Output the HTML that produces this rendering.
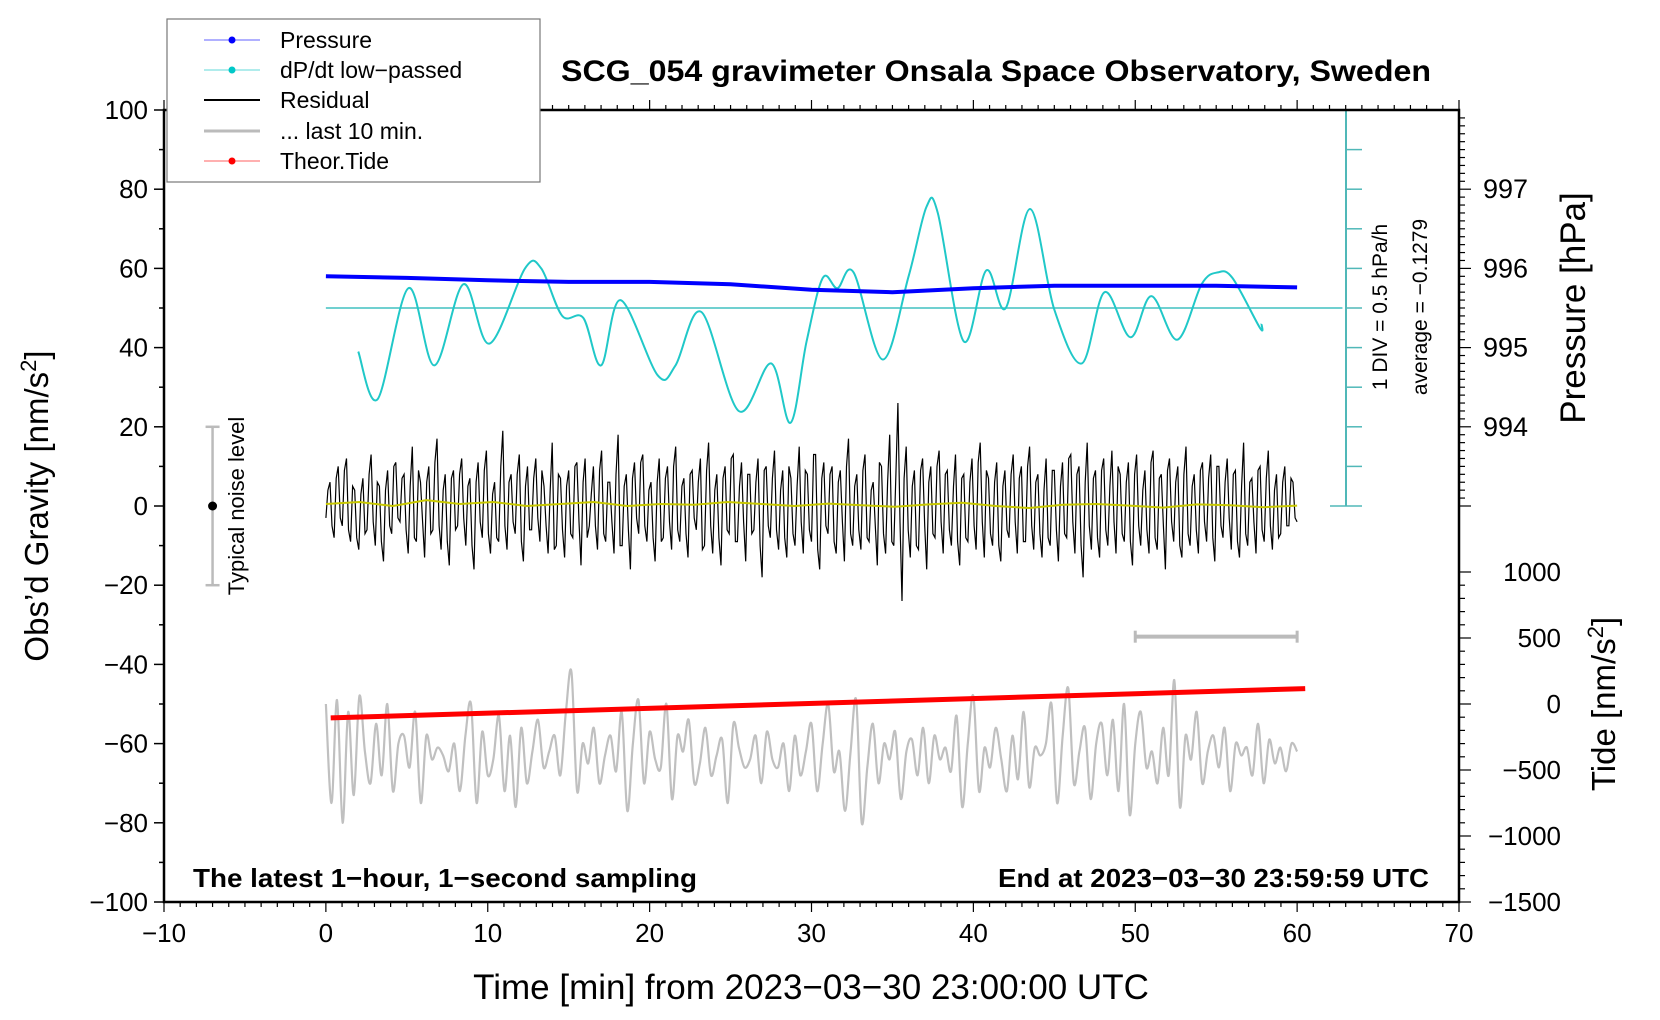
<!DOCTYPE html>
<html><head><meta charset="utf-8"><title>SCG_054 gravimeter</title>
<style>
html,body{margin:0;padding:0;background:#fff;}
svg{display:block;font-family:"Liberation Sans",Arial,sans-serif;}
</style></head>
<body>
<svg id="chart" width="1660" height="1020" viewBox="0 0 1660 1020" xmlns="http://www.w3.org/2000/svg">
<rect width="1660" height="1020" fill="#fff"/>
<g id="marks"></g>
<g id="axes"></g>
<text x="561" y="81" font-size="30" font-weight="bold" textLength="870" lengthAdjust="spacingAndGlyphs">SCG_054 gravimeter Onsala Space Observatory, Sweden</text>
<text transform="translate(48,506) rotate(-90)" font-size="33" text-anchor="middle">Obs’d Gravity [nm/s<tspan dy="-12" font-size="22">2</tspan><tspan dy="12">]</tspan></text>
<text transform="translate(1585,308) rotate(-90)" font-size="35" text-anchor="middle">Pressure [hPa]</text>
<text transform="translate(1615,704) rotate(-90)" font-size="33" text-anchor="middle">Tide [nm/s<tspan dy="-12" font-size="22">2</tspan><tspan dy="12">]</tspan></text>
<text x="811" y="999" font-size="35" text-anchor="middle">Time [min] from 2023−03−30 23:00:00 UTC</text>
<text transform="translate(1387,307) rotate(-90)" font-size="21" text-anchor="middle">1 DIV = 0.5 hPa/h</text>
<text transform="translate(1427,307) rotate(-90)" font-size="21" text-anchor="middle">average = −0.1279</text>
<text transform="translate(244,506) rotate(-90)" font-size="22" text-anchor="middle">Typical noise level</text>
<text x="193" y="887" font-size="26" font-weight="bold" textLength="504" lengthAdjust="spacingAndGlyphs">The latest 1−hour, 1−second sampling</text>
<text x="998" y="887" font-size="26" font-weight="bold" textLength="431" lengthAdjust="spacingAndGlyphs">End at 2023−03−30 23:59:59 UTC</text>
<g>
<rect x="167" y="19" width="373" height="163" fill="#fff" stroke="#777" stroke-width="1.2"/>
<line x1="204" y1="40" x2="260" y2="40" stroke="#6060ff" stroke-width="1"/><circle cx="232" cy="40" r="3.5" fill="#0000ff"/>
<text x="280" y="48" font-size="23">Pressure</text>
<line x1="204" y1="70" x2="260" y2="70" stroke="#60d8d8" stroke-width="1"/><circle cx="232" cy="70" r="3.5" fill="#00c8c8"/>
<text x="280" y="78" font-size="23">dP/dt low−passed</text>
<line x1="204" y1="100" x2="260" y2="100" stroke="#000" stroke-width="2"/>
<text x="280" y="108" font-size="23">Residual</text>
<line x1="204" y1="131" x2="260" y2="131" stroke="#bbb" stroke-width="3"/>
<text x="280" y="139" font-size="23">... last 10 min.</text>
<line x1="204" y1="161" x2="260" y2="161" stroke="#ff6060" stroke-width="1"/><circle cx="232" cy="161" r="3.5" fill="#ff0000"/>
<text x="280" y="169" font-size="23">Theor.Tide</text>
</g>
</svg>
<script>
const pressureTimes=[0,5,10,15,20,25,30,35,40,45,50,55,60];
const pressureHPa=[995.90,995.88,995.85,995.83,995.83,995.80,995.73,995.70,995.75,995.78,995.78,995.78,995.76];
const dpdtTimes=[2,3.2,5.1,6.7,8.5,10.1,12.3,13.3,14.6,15.9,17,18.2,20.5,21.6,23.2,25.5,27.5,28.7,29.7,30.7,31.6,32.6,34.4,36,37.1,37.8,39.4,40.8,42,43.5,45,46.7,48.1,49.7,51,52.6,54.1,55.1,56,57.7,57.8];
const dpdtValues=[39,27,55,35.5,56,41,60,60,48,47.5,35.5,52,33,35.5,49,24,36,21,41.6,57.6,55,59,37,58,75.5,74,41.6,59.5,50,75,49.6,36,54,42.6,53,42,56,59,57.6,45,46];
const residualA=[-3,6,-8,10,-5,12,-9,4,-11,7,-6,13,-10,5,-14,9,-7,11,-4,8,-12,15,-9,6,-13,10,-6,17,-11,8,-15,9,-5,12,-10,7,-16,11,-8,14,-12,6,-9,19,-11,8,-7,13,-14,10,-6,12,-9,5,-12,16,-10,7,-13,9,-8,11,-15,12,-5,10,-11,14,-9,6,-12,18,-10,8,-16,11,-7,13,-9,6,-14,12,-8,10,-11,15,-9,7,-13,9,-6,12,-10,16,-12,8,-15,10,-7,13,-9,11,-14,8,-6,12,-18,10,-8,14,-11,9,-13,7,-10,15,-12,8,-9,13,-16,11,-7,10,-12,9,-14,17,-10,8,-11,13,-9,6,-15,10,-12,18,-10,26,-24,15,-13,9,-11,12,-16,10,-8,14,-12,9,-10,13,-15,8,-9,12,-11,16,-13,7,-10,11,-14,9,-8,13,-12,10,-9,15,-11,8,-13,12,-10,9,-14,11,-8,13,-12,10,-18,16,-11,9,-13,12,-10,14,-12,8,-9,11,-15,13,-10,9,-12,14,-11,8,-16,12,-9,10,-13,15,-10,8,-12,11,-9,13,-14,10,-8,12,-11,9,-13,16,-10,7,-12,10,-9,14,-11,8,-7,10,-5,6,-4];
const residualB=[4,-5,7,-3,9,-6,5,-8,3,-7,8,-4,6,-9,4,-5,10,-3,7,-6,5,-8,9,-4,6,-7,11,-5,4,-9,7,-6,8,-3,5,-10,6,-4,9,-7,3,-8,10,-5,6,-4,8,-9,5,-6,7,-3,9,-5,4,-11,8,-6,5,-7,10,-4,6,-8,3,-5,9,-7,6,-4,8,-10,5,-6,7,-3,11,-5,4,-8,6,-9,7,-4,10,-6,5,-7,8,-3,6,-11,9,-5,4,-8,7,-6,12,-9,5,-4,8,-7,6,-10,9,-5,7,-6,4,-8,10,-7,5,-4,9,-6,13,-11,7,-5,8,-9,6,-4,10,-7,5,-6,9,-8,4,-5,11,-7,6,-9,8,-4,7,-6,5,-10,9,-5,6,-7,10,-4,8,-6,5,-9,7,-8,6,-5,11,-4,9,-7,6,-10,5,-6,8,-4,7,-9,10,-5,6,-7,4,-8,9,-6,5,-7,12,-4,8,-10,6,-5,7,-8,9,-6,5,-4,10,-7,6,-9,8,-5,4,-6,11,-8,7,-5,9,-4,6,-10,8,-7,5,-6,9,-4,7,-8,10,-5,6,-3,8,-9,5,-7,6,-4,9,-6,7,-5,4,-8,6,-5,7,-3];
const residual=[];
for(let i=0;i<residualA.length;i++){residual.push(residualA[i]);if(i<residualB.length)residual.push(residualB[i]);}
const smoothed=[0.5,1,0,1.5,0.5,1,0,0.5,1,0,0.5,0.3,1,0.5,0,0.6,0.2,-0.2,0.4,0.8,0,-0.5,0.3,0.5,0.1,-0.4,0.4,0.2,-0.3,0.1];
const last10=[-50,-75,-49,-80,-52,-73,-48,-62,-70,-55,-68,-50,-72,-60,-58,-66,-52,-75,-58,-64,-61,-63,-67,-60,-72,-58,-50,-75,-57,-68,-64,-53,-72,-58,-76,-56,-70,-62,-54,-66,-62,-58,-68,-52,-42,-72,-60,-65,-56,-70,-63,-58,-67,-52,-77,-60,-49,-70,-57,-64,-66,-50,-74,-58,-62,-54,-70,-65,-56,-68,-63,-59,-75,-55,-61,-66,-64,-58,-70,-57,-64,-66,-60,-72,-58,-68,-62,-55,-72,-60,-50,-67,-62,-77,-62,-49,-80,-66,-55,-70,-60,-64,-57,-74,-62,-59,-68,-56,-70,-58,-64,-61,-67,-53,-76,-60,-48,-72,-61,-66,-56,-64,-72,-58,-69,-52,-71,-61,-63,-60,-50,-75,-58,-46,-70,-62,-56,-74,-60,-55,-68,-54,-72,-50,-78,-60,-52,-66,-62,-70,-56,-68,-44,-76,-58,-64,-52,-70,-62,-58,-66,-56,-72,-60,-63,-61,-68,-55,-70,-59,-65,-61,-67,-60,-62];
const tideTimes=[0.3,60.5];
const tideValues=[-105,117];
const leftTicks=[-100,-80,-60,-40,-20,0,20,40,60,80,100];
const xTicks=[-10,0,10,20,30,40,50,60,70];
const pressureTicks=[994,995,996,997];
const tideTicks=[-1500,-1000,-500,0,500,1000];

const NS="http://www.w3.org/2000/svg";
const X0=164,X1=1459,Y0=110,Y1=902;
function xs(t){return X0+(t+10)/80*(X1-X0);}
function ys(g){return Y0+(100-g)/200*(Y1-Y0);}
function yp(p){return ys((p-993)*20);}
function yt(v){return ys(-50+v/30);}
const marks=document.getElementById('marks'),axes=document.getElementById('axes');
function mk(tag,attrs,parent){const e=document.createElementNS(NS,tag);for(const k in attrs)e.setAttribute(k,attrs[k]);(parent||marks).appendChild(e);return e;}
function poly(pts){return pts.map((p,i)=>(i?'L':'M')+p[0].toFixed(1)+','+p[1].toFixed(1)).join('');}
function smooth(pts){let d='M'+pts[0][0]+','+pts[0][1];for(let i=0;i<pts.length-1;i++){const p0=pts[i-1]||pts[i],p1=pts[i],p2=pts[i+1],p3=pts[i+2]||p2;d+=' C'+(p1[0]+(p2[0]-p0[0])/6).toFixed(1)+','+(p1[1]+(p2[1]-p0[1])/6).toFixed(1)+' '+(p2[0]-(p3[0]-p1[0])/6).toFixed(1)+','+(p2[1]-(p3[1]-p1[1])/6).toFixed(1)+' '+p2[0].toFixed(1)+','+p2[1].toFixed(1);}return d;}

let e;
e=mk('line',{x1:xs(0),y1:ys(50),x2:xs(62.8),y2:ys(50),stroke:'#40c0c0','stroke-width':1.5});


e=mk('line',{x1:1346,y1:ys(100),x2:1346,y2:ys(0),stroke:'#50b8b8','stroke-width':2});


for(let g=0;g<=100;g+=10){const w=(g===0||g===100)?16:0;mk('line',{x1:1346-w,y1:ys(g),x2:1362,y2:ys(g),stroke:'#50b8b8','stroke-width':1.5});}

const rPts=residual.map((v,i)=>[xs(i*60/(residual.length-1)),ys(v)]);
e=mk('path',{d:poly(rPts),fill:'none',stroke:'#000','stroke-width':1.2});


const sPts=smoothed.map((v,i)=>[xs(i*60/(smoothed.length-1)),ys(v)]);
e=mk('path',{d:poly(sPts),fill:'none',stroke:'#c8c800','stroke-width':2});



const gPts=last10.map((v,i)=>[xs(i*60/(last10.length-1)),ys(v)]);
e=mk('path',{d:smooth(gPts),fill:'none',stroke:'#c0c0c0','stroke-width':2.2});



const tPts=tideTimes.map((t,i)=>[xs(t),yt(tideValues[i])]);
e=mk('path',{d:poly(tPts),fill:'none',stroke:'#ff0000','stroke-width':5});



const dPts=dpdtTimes.map((t,i)=>[xs(t),ys(dpdtValues[i])]);
e=mk('path',{d:smooth(dPts),fill:'none',stroke:'#20c8c8','stroke-width':2});



const pPts=pressureTimes.map((t,i)=>[xs(t),yp(pressureHPa[i])]);
e=mk('path',{d:poly(pPts),fill:'none',stroke:'#0000ff','stroke-width':4});



e=mk('g',{stroke:'#bbb','stroke-width':2.5});


mk('line',{x1:xs(-7),y1:ys(20),x2:xs(-7),y2:ys(-20)},e);
mk('line',{x1:xs(-7)-7,y1:ys(20),x2:xs(-7)+7,y2:ys(20)},e);
mk('line',{x1:xs(-7)-7,y1:ys(-20),x2:xs(-7)+7,y2:ys(-20)},e);
mk('circle',{cx:xs(-7),cy:ys(0),r:4.5,fill:'#000',stroke:'none'});
e=mk('g',{stroke:'#bbb','stroke-width':4});


mk('line',{x1:xs(50),y1:ys(-33),x2:xs(60),y2:ys(-33)},e);
mk('line',{x1:xs(50),y1:ys(-33)-6,x2:xs(50),y2:ys(-33)+6,'stroke-width':3},e);
mk('line',{x1:xs(60),y1:ys(-33)-6,x2:xs(60),y2:ys(-33)+6,'stroke-width':3},e);

e=mk('rect',{x:X0,y:Y0,width:X1-X0,height:Y1-Y0,fill:'none',stroke:'#000','stroke-width':2.5},axes);


for(let g=-100;g<=100;g+=10){const L=g%20===0?10:5;mk('line',{x1:X0-L,y1:ys(g),x2:X0,y2:ys(g),stroke:'#000','stroke-width':1.5},axes);}
leftTicks.forEach(g=>{const t=mk('text',{x:X0-16,y:ys(g)+9,'font-size':26,'text-anchor':'end'},axes);t.textContent=String(g).replace('-','−');});
for(let t=-10;t<=70;t++){const L=t%10===0?10:5;mk('line',{x1:xs(t),y1:Y1,x2:xs(t),y2:Y1+L,stroke:'#000','stroke-width':1.2},axes);mk('line',{x1:xs(t),y1:Y0,x2:xs(t),y2:Y0-L,stroke:'#000','stroke-width':1.2},axes);}
xTicks.forEach(t=>{const tx=mk('text',{x:xs(t),y:Y1+40,'font-size':26,'text-anchor':'middle'},axes);tx.textContent=String(t).replace('-','−');});
for(let p=993;p<=998.2;p+=0.1){const y=yp(p);if(y<Y0||y>ys(0))continue;const maj=Math.abs(p-Math.round(p))<0.01;mk('line',{x1:X1,y1:y,x2:X1+(maj?12:6),y2:y,stroke:'#000','stroke-width':1.2},axes);}
pressureTicks.forEach(p=>{const t=mk('text',{x:1483,y:yp(p)+9,'font-size':27},axes);t.textContent=p;});
for(let v=-1500;v<=1000;v+=100){const maj=v%500===0;mk('line',{x1:X1,y1:yt(v),x2:X1+(maj?12:6),y2:yt(v),stroke:'#000','stroke-width':1.2},axes);}
tideTicks.forEach(v=>{const t=mk('text',{x:1561,y:yt(v)+9,'font-size':26,'text-anchor':'end'},axes);t.textContent=String(v).replace('-','−');});
</script>
</body></html>
